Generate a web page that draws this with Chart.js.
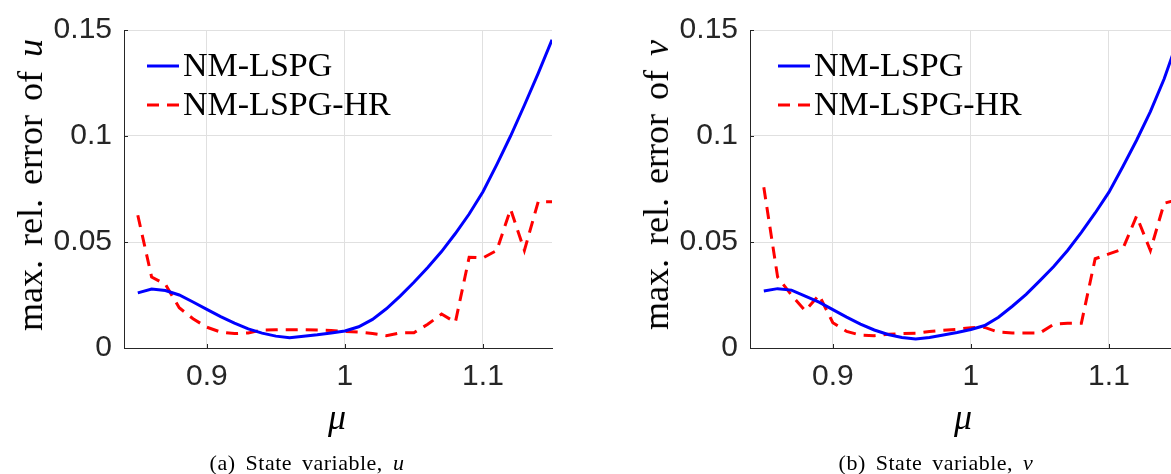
<!DOCTYPE html>
<html>
<head>
<meta charset="utf-8">
<script src="https://cdn.jsdelivr.net/npm/chart.js@4.4.1/dist/chart.umd.min.js"></script>
<style>
  html, body { margin: 0; padding: 0; overflow: hidden; background: #fff; }
  #page { position: relative; width: 1171px; height: 474px; overflow: hidden; }
  .panel { position: absolute; top: 0; width: 570px; height: 474px; }
  .ylab { position: absolute; white-space: nowrap; font: 36px "Liberation Serif", serif; color: #000;
          transform: translate(-50%, -50%) rotate(-90deg); word-spacing: 5px; }
  .xlab { position: absolute; white-space: nowrap; font: italic 36px "Liberation Serif", serif; color: #000;
          transform: translate(-50%, -50%); }
  .cap { position: absolute; white-space: nowrap; font: 22px "Liberation Serif", serif; color: #000;
         transform: translate(-50%, -50%); letter-spacing: 0.5px; word-spacing: 4px; }
</style>
</head>
<body>
<div id="page">
  <div class="panel" style="left:0px"><canvas id="chart-u"></canvas></div>
  <div class="panel" style="left:626px"><canvas id="chart-v"></canvas></div>
  <div class="ylab" style="left:30px;top:185px">max. rel. error of <i>u</i></div>
  <div class="ylab" style="left:656px;top:185px">max. rel. error of <i>v</i></div>
  <div class="xlab" style="left:337px;top:417px">μ</div>
  <div class="xlab" style="left:963px;top:417px">μ</div>
  <div class="cap" style="left:307px;top:463px">(a) State variable, <i>u</i></div>
  <div class="cap" style="left:936px;top:463px">(b) State variable, <i>v</i></div>
</div>
<script>
const mu = [0.85, 0.86, 0.87, 0.88, 0.89, 0.90, 0.91, 0.92, 0.93, 0.94, 0.95,
            0.96, 0.97, 0.98, 0.99, 1.00, 1.01, 1.02, 1.03, 1.04, 1.05,
            1.06, 1.07, 1.08, 1.09, 1.10, 1.11, 1.12, 1.13, 1.14, 1.15];

// state variable u
const uLspg = [0.0260, 0.0278, 0.0271, 0.0250, 0.0217, 0.0182, 0.0148, 0.0117, 0.0090, 0.0070, 0.0056,
               0.0048, 0.0055, 0.0062, 0.0071, 0.0080, 0.0100, 0.0135, 0.0185, 0.0245, 0.0310,
               0.0380, 0.0455, 0.0540, 0.0632, 0.0737, 0.0865, 0.1000, 0.1145, 0.1295, 0.1454];
const uLspgHr = [0.0626, 0.0335, 0.0300, 0.0190, 0.0138, 0.0098, 0.0075, 0.0068, 0.0071, 0.0085, 0.0086,
                 0.0086, 0.0086, 0.0085, 0.0083, 0.0078, 0.0075, 0.0068, 0.0058, 0.0071, 0.0072,
                 0.0112, 0.0160, 0.0121, 0.0428, 0.0425, 0.0460, 0.0655, 0.0460, 0.0690, 0.0690];

// state variable v
const vLspg = [0.0269, 0.0280, 0.0273, 0.0245, 0.0216, 0.0181, 0.0146, 0.0113, 0.0085, 0.0064, 0.0050,
               0.0042, 0.0050, 0.0061, 0.0073, 0.0087, 0.0106, 0.0145, 0.0197, 0.0253, 0.0318,
               0.0384, 0.0460, 0.0545, 0.0637, 0.0735, 0.0855, 0.0980, 0.1115, 0.1270, 0.1455];
const vLspgHr = [0.0758, 0.0335, 0.0250, 0.0176, 0.0250, 0.0119, 0.0078, 0.0061, 0.0058, 0.0065, 0.0068,
                 0.0070, 0.0078, 0.0084, 0.0088, 0.0096, 0.0097, 0.0075, 0.0071, 0.0071, 0.0071,
                 0.0112, 0.0117, 0.0117, 0.0421, 0.0444, 0.0467, 0.0622, 0.0460, 0.0683, 0.0700];

const seriesNames = ['NM-LSPG', 'NM-LSPG-HR'];
const muTicks = [0.9, 1, 1.1];
const errTicks = [0, 0.05, 0.1, 0.15];

const axisInk = '#262626';
const gridInk = '#e0e0e0';
const tickFont = { family: '"Liberation Sans", Arial, sans-serif', size: 30 };

// MATLAB style short ticks pointing into the axes
const inwardTicks = {
  id: 'inwardTicks',
  afterDraw(chart) {
    const { ctx, chartArea: a, scales: { x, y } } = chart;
    ctx.save();
    ctx.strokeStyle = axisInk;
    ctx.lineWidth = 1;
    ctx.beginPath();
    x.ticks.forEach(t => {
      const px = Math.round(x.getPixelForValue(t.value)) + 0.5;
      ctx.moveTo(px, a.bottom);
      ctx.lineTo(px, a.bottom - 4);
    });
    y.ticks.forEach(t => {
      const py = Math.round(y.getPixelForValue(t.value)) + 0.5;
      ctx.moveTo(a.left, py);
      ctx.lineTo(a.left + 4, py);
    });
    ctx.stroke();
    ctx.restore();
  }
};

// legend drawn inside the plot area, top left
const boxLegend = {
  id: 'boxLegend',
  afterDraw(chart, args, opts) {
    const { ctx, chartArea: a } = chart;
    ctx.save();
    ctx.font = '34px "Liberation Serif", serif';
    ctx.textBaseline = 'alphabetic';
    ctx.fillStyle = '#000';
    chart.data.datasets.forEach((ds, i) => {
      const x0 = a.left + opts.left;
      const yLine = a.top + 36 + i * 39;
      ctx.strokeStyle = ds.borderColor;
      ctx.lineWidth = ds.borderWidth;
      ctx.setLineDash(ds.borderDash || []);
      ctx.beginPath();
      ctx.moveTo(x0, yLine);
      ctx.lineTo(x0 + 32, yLine);
      ctx.stroke();
      ctx.setLineDash([]);
      ctx.fillText(ds.label, x0 + 36, yLine + 10);
    });
    ctx.restore();
  }
};

function makeChart(id, lspg, lspgHr, legendLeft) {
  return new Chart(document.getElementById(id), {
    type: 'line',
    data: {
      datasets: [{
        label: seriesNames[0],
        data: mu.map((m, i) => ({ x: m, y: lspg[i] })),
        borderColor: '#0000ff',
        borderWidth: 3,
        pointRadius: 0,
        tension: 0
      }, {
        label: seriesNames[1],
        data: mu.map((m, i) => ({ x: m, y: lspgHr[i] })),
        borderColor: '#ff0000',
        borderWidth: 3,
        borderDash: [12, 8],
        pointRadius: 0,
        tension: 0
      }]
    },
    options: {
      responsive: true,
      maintainAspectRatio: false,
      animation: false,
      layout: { padding: { left: 0, top: 23, right: 18, bottom: 0 } },
      plugins: {
        legend: { display: false },
        tooltip: { enabled: false },
        boxLegend: { left: legendLeft }
      },
      scales: {
        x: {
          type: 'linear',
          min: 0.84,
          max: 1.15,
          afterBuildTicks: s => { s.ticks = muTicks.map(v => ({ value: v })); },
          afterFit: s => { s.height = 126; },
          grid: { color: gridInk, drawTicks: false },
          border: { color: axisInk, width: 1 },
          ticks: { color: axisInk, font: tickFont, padding: 11, maxRotation: 0, callback: v => String(v) }
        },
        y: {
          min: 0,
          max: 0.15,
          afterBuildTicks: s => { s.ticks = errTicks.map(v => ({ value: v })); },
          afterFit: s => { s.width = 124; },
          grid: { color: gridInk, drawTicks: false },
          border: { color: axisInk, width: 1 },
          ticks: { color: axisInk, font: tickFont, padding: 12, callback: v => String(v) }
        }
      }
    },
    plugins: [inwardTicks, boxLegend]
  });
}

makeChart('chart-u', uLspg, uLspgHr, 23);
makeChart('chart-v', vLspg, vLspgHr, 28);
</script>
</body>
</html>
